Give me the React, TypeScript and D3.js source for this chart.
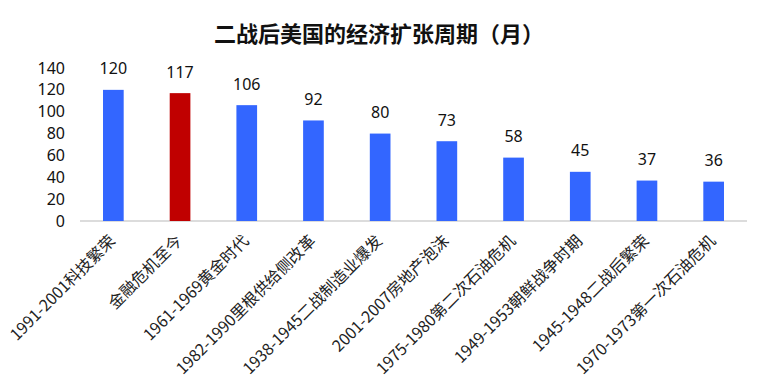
import React from "react";
import * as d3 from "d3";

const categories = [
  "1991-2001科技繁荣",
  "金融危机至今",
  "1961-1969黄金时代",
  "1982-1990里根供给侧改革",
  "1938-1945二战制造业爆发",
  "2001-2007房地产泡沫",
  "1975-1980第二次石油危机",
  "1949-1953朝鲜战争时期",
  "1945-1948二战后繁荣",
  "1970-1973第一次石油危机",
];
const values = [120, 117, 106, 92, 80, 73, 58, 45, 37, 36];
const highlight = "金融危机至今";
const yTicks = [0, 20, 40, 60, 80, 100, 120, 140];
const title = "二战后美国的经济扩张周期（月）";

const W = 770;
const H = 389;
const left = 80;
const right = 747;
const top = 68;
const bottom = 221;

export default function App() {
  const x = d3.scaleBand<string>().domain(categories).range([left, right]).paddingInner(0.69).paddingOuter(0.345);
  const y = d3.scaleLinear().domain([0, 140]).range([bottom, top]);
  const numFont = "'Noto Sans', 'Liberation Sans', Arial, sans-serif";
  const cjkFont = "'Noto Sans CJK SC', sans-serif";
  return (
    <svg width={W} height={H} style={{ position: "absolute", left: 0, top: 0, background: "#fff" }}>
      <text x={379} y={42} textAnchor="middle" fontFamily={cjkFont} fontWeight="bold" fontSize={22} fill="#111">
        {title}
      </text>
      {yTicks.map((t) => (
        <text key={t} x={65} y={y(t)} dy="0.35em" textAnchor="end" fontFamily={numFont} fontSize={16} fill="#111">
          {t}
        </text>
      ))}
      <line x1={left} x2={right} y1={bottom} y2={bottom} stroke="#d0d0d0" strokeWidth={1.5} />
      {categories.map((c, i) => {
        const bx = x(c)!;
        const bw = x.bandwidth();
        const v = values[i];
        return (
          <g key={c}>
            <rect x={bx} y={y(v)} width={bw} height={bottom - y(v)} fill={c === highlight ? "#c00000" : "#3366ff"} />
            <text x={bx + bw / 2} y={y(v) - 15.5} textAnchor="middle" fontFamily={numFont} fontSize={16} fill="#111">
              {v}
            </text>
            <text
              transform={`translate(${bx + bw / 2 + 3},${bottom + 21}) rotate(-45)`}
              textAnchor="end"
              fontFamily={cjkFont}
              fontSize={16}
              fill="#222"
            >
              {c}
            </text>
          </g>
        );
      })}
    </svg>
  );
}
